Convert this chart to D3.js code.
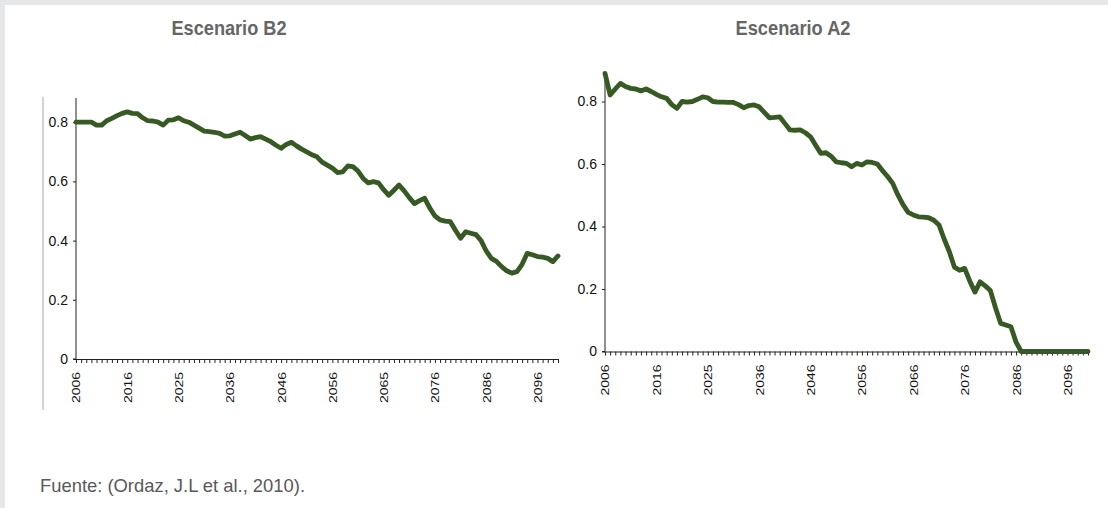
<!DOCTYPE html>
<html>
<head>
<meta charset="utf-8">
<script src="https://cdn.jsdelivr.net/npm/d3@7"></script>
<style>
  html, body { margin: 0; padding: 0; background: #e6e7e9; }
  svg { display: block; }
  text { font-family: "Liberation Sans", Arial, sans-serif; }
</style>
</head>
<body>
<svg id="chart" width="1108" height="508"></svg>
<script>
// ---------------- DATA ----------------
const years = d3.range(2006, 2101);

const b2Values = [
  0.800, 0.800, 0.800, 0.800, 0.790, 0.790, 0.805, 0.813, 0.822, 0.830,
  0.835, 0.830, 0.829, 0.815, 0.805, 0.804, 0.800, 0.790, 0.807, 0.808,
  0.815, 0.805, 0.800, 0.790, 0.780, 0.770, 0.768, 0.766, 0.762, 0.753,
  0.754, 0.760, 0.766, 0.755, 0.743, 0.748, 0.751, 0.743, 0.734, 0.722,
  0.712, 0.725, 0.732, 0.720, 0.709, 0.700, 0.690, 0.683, 0.665, 0.655,
  0.645, 0.630, 0.632, 0.652, 0.650, 0.635, 0.610, 0.595, 0.599, 0.595,
  0.572, 0.553, 0.570, 0.588, 0.568, 0.545, 0.525, 0.535, 0.543, 0.510,
  0.483, 0.470, 0.466, 0.464, 0.435, 0.408, 0.430, 0.425, 0.420, 0.400,
  0.365, 0.340, 0.330, 0.312, 0.298, 0.290, 0.295, 0.320, 0.357, 0.352,
  0.346, 0.344, 0.340, 0.329, 0.348
];

const a2Values = [
  0.890, 0.821, 0.840, 0.858, 0.848, 0.842, 0.840, 0.834, 0.840, 0.832,
  0.823, 0.815, 0.810, 0.790, 0.778, 0.800, 0.798, 0.800, 0.807, 0.815,
  0.812, 0.800, 0.798, 0.798, 0.797, 0.797, 0.790, 0.780, 0.787, 0.789,
  0.783, 0.765, 0.748, 0.749, 0.751, 0.730, 0.709, 0.708, 0.709, 0.700,
  0.687, 0.660, 0.634, 0.636, 0.625, 0.607, 0.604, 0.602, 0.591, 0.602,
  0.597, 0.607, 0.605, 0.600, 0.579, 0.560, 0.538, 0.501, 0.470, 0.445,
  0.437, 0.431, 0.430, 0.428, 0.420, 0.405, 0.360, 0.320, 0.270, 0.260,
  0.266, 0.225, 0.190, 0.223, 0.210, 0.195, 0.140, 0.090, 0.085, 0.079,
  0.030, 0.000, 0.000, 0.000, 0.000, 0.000, 0.000, 0.000, 0.000, 0.000,
  0.000, 0.000, 0.000, 0.000, 0.000
];

const b2TickLabels = ["2006", "2016", "2025", "2036", "2046", "2056", "2065", "2076", "2086", "2096"];
const a2TickLabels = ["2006", "2016", "2025", "2036", "2046", "2056", "2066", "2076", "2086", "2096"];
const yTicks = [0, 0.2, 0.4, 0.6, 0.8];
const yTickLabels = ["0", "0.2", "0.4", "0.6", "0.8"];

const titles = ["Escenario B2", "Escenario A2"];
const sourceText = "Fuente: (Ordaz, J.L et al., 2010).";

// ---------------- DRAW ----------------
const svg = d3.select("#chart");
svg.append("rect").attr("x", 5).attr("y", 5).attr("width", 1103).attr("height", 503).attr("fill", "#ffffff");

// left grey separator line
svg.append("line").attr("x1", 43).attr("x2", 43).attr("y1", 97).attr("y2", 410)
  .attr("stroke", "#c4c4c4").attr("stroke-width", 1.5);

const LINE_COLOR = "#375a25";

function drawPanel(cfg) {
  const x = d3.scalePoint().domain(years).range([cfg.x0, cfg.x1]);
  const y = d3.scaleLinear().domain([0, cfg.yMax]).range([cfg.yZero, cfg.yTop]);
  const g = svg.append("g");

  // title
  svg.append("text")
    .attr("x", cfg.titleX).attr("y", 35)
    .attr("text-anchor", "middle")
    .attr("font-size", 21).attr("font-weight", "bold")
    .attr("fill", "#666666")
    .attr("textLength", 115).attr("lengthAdjust", "spacingAndGlyphs")
    .text(cfg.title);

  // y axis
  const yAxis = d3.axisLeft(y).tickValues(yTicks)
    .tickFormat((d, i) => yTickLabels[i]).tickSize(3).tickPadding(5);
  const gy = g.append("g").attr("transform", `translate(${cfg.x0},0)`).call(yAxis);
  gy.select(".domain").attr("d", `M-3,${y(0)}H0V${cfg.yTop}`).attr("stroke", "#222");
  gy.selectAll(".tick line").attr("stroke", "#222");
  gy.selectAll(".tick text")
    .attr("font-family", "'Liberation Sans', Arial, sans-serif")
    .attr("font-size", 14).attr("fill", "#111");

  // x axis
  const xAxis = d3.axisBottom(x).tickValues(years)
    .tickFormat((d, i) => (i % 10 === 0 ? cfg.tickLabels[i / 10] : ""))
    .tickSize(4).tickSizeOuter(0);
  const gx = g.append("g").attr("transform", `translate(0,${cfg.yZero})`).call(xAxis);
  gx.select(".domain").attr("stroke", "#222");
  gx.selectAll(".tick line").attr("stroke", "#222");
  gx.selectAll(".tick text")
    .attr("font-family", "'Liberation Sans', Arial, sans-serif")
    .attr("font-size", 11).attr("fill", "#111")
    .attr("text-anchor", "end")
    .attr("transform", "rotate(-90)")
    .attr("x", -13).attr("y", 0).attr("dy", "0.36em")
    .each(function () { if (this.textContent) d3.select(this).attr("textLength", 31).attr("lengthAdjust", "spacingAndGlyphs"); });

  // line
  const line = d3.line().x((d, i) => x(years[i])).y(d => y(d));
  g.append("path").datum(cfg.values)
    .attr("d", line)
    .attr("fill", "none")
    .attr("stroke", LINE_COLOR)
    .attr("stroke-width", 4.8)
    .attr("stroke-linejoin", "round")
    .attr("stroke-linecap", "round");
}

drawPanel({
  title: titles[0], titleX: 229, values: b2Values, tickLabels: b2TickLabels,
  x0: 76, x1: 558, yZero: 359, yTop: 98, yMax: 0.8 * (359 - 98) / (359 - 122.2)
});
drawPanel({
  title: titles[1], titleX: 793, values: a2Values, tickLabels: a2TickLabels,
  x0: 605, x1: 1088, yZero: 351.5, yTop: 72, yMax: 0.8 * (351.5 - 72) / (351.5 - 101.5)
});

// source note
svg.append("text")
  .attr("x", 40).attr("y", 492)
  .attr("font-size", 19).attr("fill", "#595959")
  .attr("textLength", 265).attr("lengthAdjust", "spacingAndGlyphs")
  .text(sourceText);
</script>
</body>
</html>
